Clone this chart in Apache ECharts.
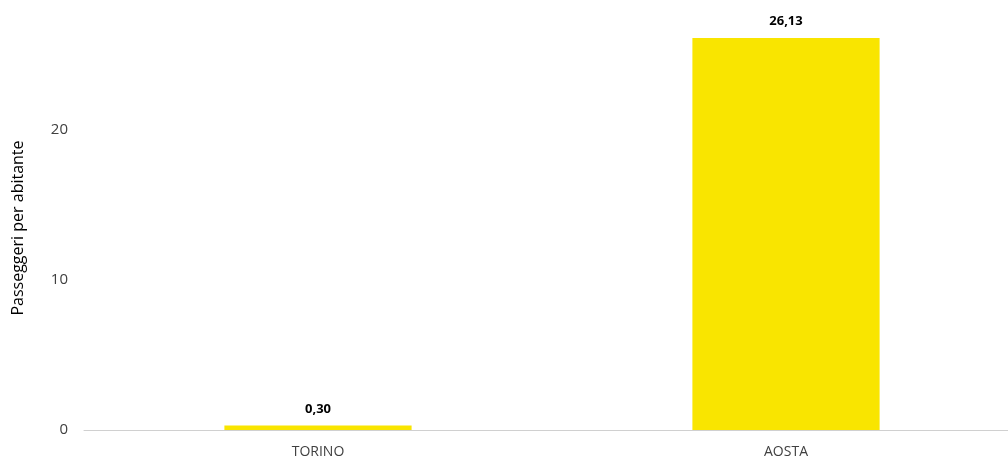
<!DOCTYPE html>
<html><head><meta charset="utf-8">
<script src="https://cdn.jsdelivr.net/npm/echarts@6/dist/echarts.min.js"></script>
<style>html,body{margin:0;padding:0;background:#fff;overflow:hidden}#c{width:1020px;height:460px}</style>
</head><body><div id="c"></div>
<script>
const categories = ['TORINO', 'AOSTA'];
const values = [0.30, 26.13];
const yMin = 0;
const yMax = 28;
const yInterval = 10;
const yTitle = 'Passeggeri per abitante';

const font = '"Open Sans", sans-serif';
const chart = echarts.init(document.getElementById('c'));
chart.setOption({
  animation: false,
  grid: { left: 84, top: 10, right: 0, bottom: 30, containLabel: false },
  graphic: [{
    type: 'text', x: 18, y: 228, rotation: Math.PI / 2,
    style: { text: yTitle, fill: '#000', font: '16px "Open Sans", sans-serif', align: 'center', verticalAlign: 'middle' }
  }],
  xAxis: {
    type: 'category', data: categories,
    axisLine: { lineStyle: { color: '#d0d0d0', width: 1 } },
    axisTick: { show: false },
    axisLabel: { color: '#404040', fontFamily: font, fontSize: 14, margin: 15 }
  },
  yAxis: {
    type: 'value', min: yMin, max: yMax, interval: yInterval,
    axisLine: { show: false }, axisTick: { show: false }, splitLine: { show: false },
    axisLabel: { color: '#404040', fontFamily: font, fontSize: 15, margin: 16, showMaxLabel: false }
  },
  series: [{
    type: 'bar', data: values, barWidth: '40%',
    itemStyle: { color: '#F9E500' },
    label: {
      show: true, position: 'top', distance: 10,
      fontFamily: font, fontSize: 13, fontWeight: 'bold', color: '#000',
      formatter: p => p.value.toFixed(2).replace('.', ',')
    }
  }]
});
</script></body></html>
